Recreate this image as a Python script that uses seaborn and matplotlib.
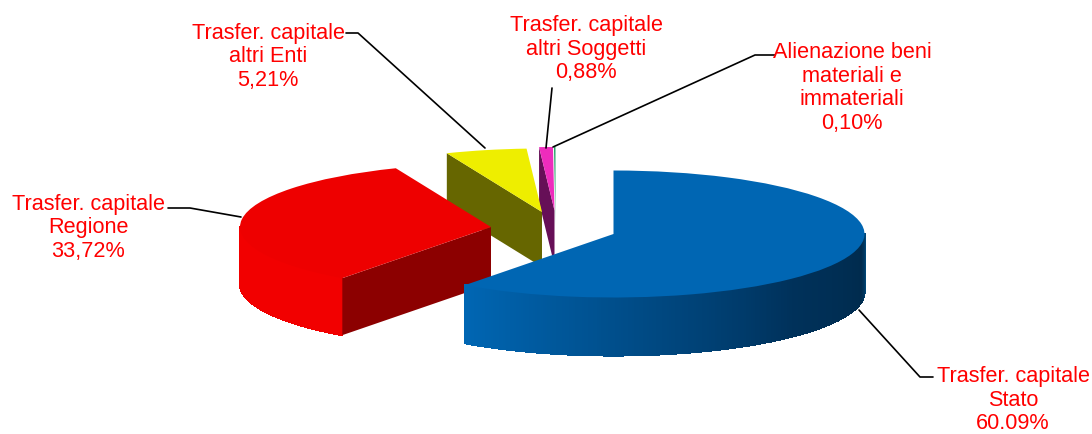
import numpy as np
import matplotlib
matplotlib.use("Agg")
import matplotlib.pyplot as plt
from matplotlib.colors import LinearSegmentedColormap
import seaborn as sns

# valori
voci = ["Stato", "Regione", "altri Enti", "altri Soggetti", "Alienazione"]
valori = [60.09, 33.72, 5.21, 0.88, 0.10]
etichette = [
    "Trasfer. capitale\nStato\n60.09%",
    "Trasfer. capitale\nRegione\n33,72%",
    "Trasfer. capitale\naltri Enti\n5,21%",
    "Trasfer. capitale\naltri Soggetti\n0,88%",
    "Alienazione beni\nmateriali e\nimmateriali\n0,10%",
]

# stile e posizione delle fette, in pixel
colori_top = ["#0066B3", "#EE0000", "#EEEE00", "#EE2CBC", "#2DA56D"]
colori_taglio = ["#004B80", "#8C0000", "#666600", "#660F57", "#A5D8BE"]
centri = [(613.5, 234), (491, 227), (542, 212), (554.5, 210.5), (555.5, 210.5)]
spessori = [58, 57, 55, 55, 15]
pos_testo = [(1013, 400), (88, 228), (268, 57), (586, 49), (852, 88)]
linee = [
    [(859, 310), (920, 377), (933, 377)],
    [(168, 208), (190, 208), (241, 217)],
    [(346, 33), (358, 33), (485, 148)],
    [(552, 88), (546, 148)],
    [(775, 55), (755, 55), (553, 147)],
]
RX, RY = 251, 63.5
W, H = 1092, 434

sns.set_theme(style="white")
plt.rcParams["font.family"] = ["Liberation Sans", "DejaVu Sans"]


def a_dati(x, y):
    # da pixel a coordinate del grafico (raggio torta = 1)
    return x / RX, (H - y) / RY


def bordo(c, ang, giu=0):
    # punto sul bordo, angolo in gradi orari da ore 12
    a = np.radians(ang)
    return a_dati(c[0] + RX * np.sin(a), c[1] - RY * np.cos(a) + giu)


def taglio(ax, c, ang, spess, colore):
    punti = [a_dati(*c), bordo(c, ang), bordo(c, ang, spess), a_dati(c[0], c[1] + spess)]
    xs, ys = zip(*punti)
    ax.fill(xs, ys, color=colore, lw=0)


def parete(ax, c, a1, a2, spess, colore_fn):
    # parete esterna fatta di strisce sottili, senza antialias per non vedere le giunture
    angoli = np.arange(a1, a2, 0.5).tolist() + [a2]
    for p, q in zip(angoli[:-1], angoli[1:]):
        punti = [bordo(c, p), bordo(c, q), bordo(c, q, spess), bordo(c, p, spess)]
        xs, ys = zip(*punti)
        ax.fill(xs, ys, color=colore_fn((p + q) / 2), lw=0.8, antialiased=False)


fig = plt.figure(figsize=(W / 100, H / 100), dpi=100)
ax = fig.add_axes([0, 0, 1, 1])

gradiente = LinearSegmentedColormap.from_list(
    "blu", [(0, "#00497A"), (0.08, "#002B4D"), (0.35, "#00315A"), (1, "#0066B3")]
)

inizi = np.cumsum([0] + valori[:-1]) * 3.6
fini = np.cumsum(valori) * 3.6

# dalla fetta piu lontana alla piu vicina
for i in [4, 3, 2, 1, 0]:
    c = centri[i]
    if i == 0:
        parete(ax, c, 90, fini[0], spessori[0], lambda a: gradiente((a - 90) / (fini[0] - 90)))
    elif i == 1:
        parete(ax, c, inizi[1], 270, spessori[1], lambda a: "#F20000")
        taglio(ax, c, inizi[1], spessori[1], colori_taglio[1])
    else:
        taglio(ax, c, inizi[i], spessori[i], colori_taglio[i])
    ax.pie(
        [valori[i] / 100],
        colors=[colori_top[i]],
        startangle=90 - inizi[i],
        counterclock=False,
        normalize=False,
        center=a_dati(*c),
        radius=1,
        wedgeprops={"linewidth": 0},
    )

for tratto in linee:
    xs, ys = zip(*[a_dati(*p) for p in tratto])
    ax.plot(xs, ys, color="black", lw=1.2, solid_capstyle="round")

for testo, p in zip(etichette, pos_testo):
    x, y = a_dati(*p)
    ax.text(x, y, testo, color="#FF0000", fontsize=15.6, ha="center", va="center", linespacing=1.17)

ax.set_aspect("auto")
ax.set_xlim(0, W / RX)
ax.set_ylim(0, H / RY)
ax.axis("off")

fig.savefig("out.png", dpi=100, facecolor="white")
plt.close(fig)
